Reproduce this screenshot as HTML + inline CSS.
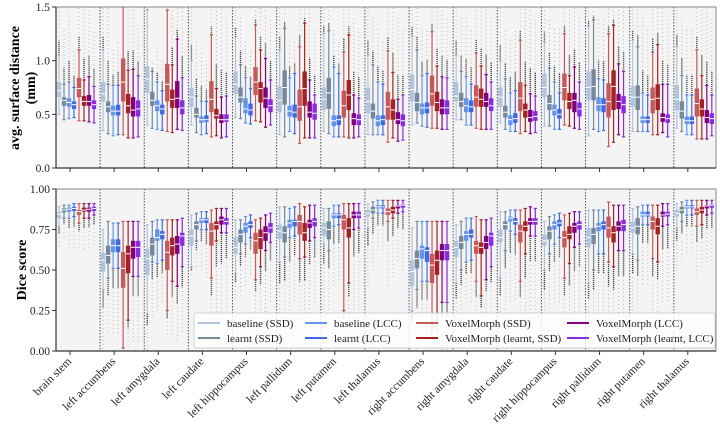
<!DOCTYPE html>
<html><head><meta charset="utf-8"><style>
html,body{margin:0;padding:0;background:#fff;}
svg{display:block;font-family:"Liberation Serif",serif;}
</style></head><body>
<svg id="fig" width="720" height="432" viewBox="0 0 720 432" xmlns="http://www.w3.org/2000/svg">
<g id="top"></g>
<g id="bot"></g>
<g id="xl"></g>
<text transform="translate(19,88) rotate(-90)" text-anchor="middle" font-size="14" font-weight="bold">avg. surface distance</text>
<text transform="translate(35,88) rotate(-90)" text-anchor="middle" font-size="14" font-weight="bold">(mm)</text>
<text transform="translate(26,270) rotate(-90)" text-anchor="middle" font-size="14" font-weight="bold">Dice score</text>
<g id="legend"></g>
</svg>
<script>
const categories=["brain stem","left accumbens","left amygdala","left caudate","left hippocampus","left pallidum","left putamen","left thalamus","right accumbens","right amygdala","right caudate","right hippocampus","right pallidum","right putamen","right thalamus"];
const methods=["baseline (SSD)","learnt (SSD)","baseline (LCC)","learnt (LCC)","VoxelMorph (SSD)","VoxelMorph (learnt, SSD)","VoxelMorph (LCC)","VoxelMorph (learnt, LCC)"];
const colors=["#b0c4de","#778899","#6495ed","#4169e1","#c65a5a","#a52222","#800080","#8a2be2"];
const asdTicks=[0,0.5,1.0,1.5];
const diceTicks=[0,0.25,0.5,0.75,1.0];
const asdQ1=[[.66,.58,.57,.55,.66,.58,.58,.55],[.62,.52,.49,.49,.62,.51,.48,.48],[.70,.58,.53,.50,.62,.56,.56,.50],[.57,.47,.42,.43,.52,.46,.42,.43],[.69,.61,.51,.49,.68,.61,.56,.52],[.52,.59,.48,.47,.44,.58,.47,.45],[.54,.55,.39,.40,.47,.54,.40,.40],[.51,.46,.39,.40,.45,.45,.41,.39],[.62,.53,.50,.51,.58,.53,.50,.50],[.62,.57,.52,.52,.57,.57,.57,.53],[.57,.47,.40,.42,.53,.47,.43,.44],[.66,.54,.49,.46,.63,.55,.52,.48],[.63,.63,.53,.52,.47,.54,.55,.51],[.57,.54,.42,.42,.51,.54,.43,.42],[.54,.46,.41,.41,.48,.48,.42,.41]];
const asdMed=[[.72,.63,.61,.59,.74,.62,.62,.59],[.69,.57,.53,.53,.80,.58,.54,.55],[.83,.63,.58,.55,.78,.64,.65,.56],[.66,.50,.45,.45,.64,.49,.45,.45],[.78,.66,.55,.54,.80,.74,.65,.58],[.63,.75,.53,.52,.57,.74,.52,.51],[.64,.70,.44,.45,.58,.68,.46,.45],[.62,.53,.44,.45,.57,.54,.45,.44],[.73,.61,.56,.56,.69,.61,.56,.56],[.67,.62,.58,.57,.66,.64,.62,.58],[.66,.52,.45,.46,.65,.54,.47,.48],[.75,.60,.54,.50,.75,.62,.63,.55],[.75,.76,.59,.59,.62,.76,.62,.59],[.66,.66,.45,.45,.64,.65,.47,.46],[.64,.53,.44,.44,.60,.55,.47,.46]];
const asdQ3=[[.80,.66,.65,.62,.84,.67,.68,.63],[.80,.62,.58,.59,1.02,.69,.66,.63],[.95,.71,.63,.59,.97,.73,.81,.63],[.75,.56,.48,.49,.81,.55,.50,.50],[.90,.75,.65,.60,.94,.80,.75,.64],[.76,.91,.58,.59,.73,.90,.62,.60],[.75,.84,.49,.49,.72,.82,.51,.50],[.75,.60,.49,.49,.71,.64,.52,.50],[.87,.70,.60,.61,.86,.71,.64,.63],[.80,.70,.65,.63,.77,.74,.70,.65],[.75,.58,.49,.51,.80,.60,.54,.53],[.88,.68,.59,.55,.88,.70,.70,.61],[.90,.92,.66,.65,.79,.91,.69,.67],[.76,.77,.48,.48,.75,.78,.51,.50],[.77,.62,.48,.48,.74,.64,.54,.51]];
const asdLo=[[.50,.45,.46,.47,.44,.44,.43,.42],[.35,.32,.30,.31,.31,.28,.28,.29],[.40,.37,.36,.35,.34,.33,.36,.35],[.40,.33,.31,.32,.29,.30,.28,.29],[.47,.46,.42,.41,.44,.43,.38,.40],[.31,.29,.34,.32,.23,.28,.28,.28],[.34,.32,.29,.29,.29,.28,.28,.29],[.31,.31,.31,.31,.24,.28,.25,.26],[.40,.42,.39,.38,.37,.37,.36,.36],[.45,.45,.40,.40,.37,.36,.36,.36],[.42,.36,.34,.34,.32,.34,.32,.33],[.39,.39,.36,.36,.40,.39,.37,.36],[.30,.36,.34,.35,.20,.24,.31,.29],[.34,.34,.34,.34,.31,.31,.33,.29],[.37,.34,.31,.31,.27,.27,.27,.30]];
const asdHi=[[1.05,.78,.80,.75,1.10,.82,.85,.76],[1.10,.78,.77,.77,1.50,.91,.92,.86],[1.47,.90,.80,.72,1.47,.96,1.20,.84],[1.00,.67,.62,.62,1.24,.74,.66,.67],[1.22,.96,.84,.74,1.33,1.10,1.02,.82],[1.10,1.30,.84,.88,1.13,1.35,.82,.68],[1.25,1.28,.94,.88,1.08,1.24,.68,.65],[1.05,.96,.80,.78,1.09,.89,.64,.68],[1.23,1.10,.86,.88,1.27,.95,.85,.84],[1.05,.90,.85,.78,1.07,.95,.87,.80],[1.00,.83,.70,.72,1.19,.77,.69,.67],[1.17,.93,.80,.70,1.25,.86,.94,.80],[1.32,1.38,.83,.82,1.25,1.33,.97,.90],[1.19,1.13,.70,.68,1.08,1.15,.78,.78],[1.13,.86,.68,.68,1.10,.86,.77,.68]];
const asdOut=[[1.5,1.3,1.45,1.1,1.5,1.5,1.5,1.3],[1.5,1.5,1.1,1.2,1.5,1.5,1.5,1.3],[1.5,1.0,1.1,1.0,1.5,1.5,1.5,1.5],[1.5,1.2,1.1,1.0,1.5,1.5,1.5,1.4],[1.5,1.4,1.2,1.1,1.5,1.5,1.5,1.4],[1.5,1.5,1.2,1.2,1.5,1.5,1.5,1.3],[1.5,1.5,1.3,1.2,1.5,1.5,1.4,1.3],[1.5,1.4,1.3,1.2,1.5,1.5,1.4,1.3],[1.5,1.5,1.3,1.3,1.5,1.5,1.5,1.4],[1.5,1.4,1.4,1.3,1.5,1.5,1.5,1.4],[1.5,1.3,1.2,1.3,1.5,1.5,1.5,1.4],[1.5,1.4,1.3,1.3,1.5,1.5,1.5,1.4],[1.5,1.5,1.4,1.4,1.5,1.5,1.5,1.5],[1.5,1.5,1.4,1.3,1.5,1.5,1.5,1.4],[1.5,1.4,1.3,1.3,1.5,1.5,1.5,1.4]];
const diceQ1=[[.82,.855,.86,.865,.84,.86,.86,.865],[.49,.54,.61,.61,.39,.48,.57,.58],[.47,.59,.68,.69,.50,.59,.60,.65],[.65,.75,.79,.79,.65,.75,.78,.78],[.60,.67,.73,.76,.60,.63,.68,.73],[.69,.67,.76,.77,.72,.68,.76,.77],[.71,.69,.82,.82,.75,.70,.82,.82],[.83,.85,.88,.88,.84,.85,.88,.885],[.40,.51,.57,.55,.42,.47,.56,.56],[.58,.63,.68,.70,.60,.60,.63,.65],[.67,.75,.80,.78,.67,.74,.78,.78],[.65,.69,.75,.77,.64,.69,.73,.75],[.64,.66,.74,.75,.70,.67,.74,.74],[.73,.72,.83,.83,.75,.72,.83,.83],[.83,.85,.88,.88,.84,.85,.88,.885]];
const diceMed=[[.845,.87,.875,.88,.86,.87,.875,.88],[.56,.59,.65,.65,.51,.60,.64,.64],[.57,.66,.70,.72,.61,.65,.66,.71],[.71,.78,.81,.81,.74,.78,.81,.80],[.64,.72,.77,.78,.68,.70,.73,.76],[.74,.73,.79,.80,.80,.73,.79,.80],[.76,.75,.84,.84,.81,.76,.84,.84],[.85,.87,.89,.89,.86,.87,.895,.90],[.49,.57,.63,.62,.53,.56,.62,.62],[.64,.67,.72,.72,.65,.64,.67,.71],[.70,.78,.82,.80,.74,.77,.80,.80],[.68,.74,.78,.79,.70,.72,.77,.78],[.70,.72,.77,.78,.76,.73,.77,.78],[.76,.77,.84,.84,.80,.77,.84,.845],[.85,.87,.89,.89,.86,.87,.895,.90]];
const diceQ3=[[.86,.88,.885,.89,.87,.885,.885,.89],[.605,.65,.69,.69,.61,.65,.68,.68],[.63,.70,.75,.74,.68,.70,.71,.73],[.75,.80,.82,.82,.79,.80,.83,.82],[.70,.75,.79,.80,.73,.75,.77,.79],[.78,.77,.81,.81,.84,.79,.81,.82],[.79,.80,.85,.85,.84,.82,.86,.86],[.87,.89,.90,.90,.88,.89,.90,.905],[.56,.62,.65,.64,.60,.62,.66,.66],[.68,.71,.74,.75,.68,.67,.71,.73],[.75,.80,.83,.82,.78,.80,.82,.82],[.72,.77,.80,.81,.74,.77,.79,.80],[.76,.76,.79,.80,.83,.77,.80,.81],[.80,.82,.86,.86,.83,.82,.86,.86],[.87,.89,.90,.90,.88,.89,.90,.905]];
const diceLo=[[.77,.82,.82,.83,.79,.82,.82,.84],[.38,.45,.51,.51,.02,.19,.46,.46],[.23,.55,.54,.56,.25,.43,.40,.52],[.52,.68,.75,.75,.45,.68,.73,.73],[.48,.60,.66,.70,.44,.52,.62,.67],[.55,.58,.70,.71,.57,.58,.68,.70],[.66,.62,.77,.78,.25,.42,.75,.76],[.76,.82,.85,.85,.80,.82,.85,.86],[.25,.38,.43,.43,.15,.17,.30,.30],[.42,.50,.55,.56,.43,.34,.44,.52],[.45,.62,.74,.72,.43,.60,.71,.71],[.50,.60,.66,.70,.45,.54,.64,.66],[.42,.50,.60,.60,.55,.52,.62,.62],[.60,.56,.78,.78,.57,.55,.77,.78],[.76,.80,.84,.84,.77,.78,.84,.85]];
const diceHi=[[.89,.90,.90,.91,.91,.91,.91,.91],[.75,.80,.79,.79,.80,.80,.80,.80],[.78,.80,.81,.81,.81,.81,.81,.82],[.84,.85,.86,.86,.87,.88,.88,.88],[.81,.81,.83,.84,.81,.82,.84,.85],[.89,.89,.88,.89,.91,.89,.90,.90],[.88,.88,.90,.90,.91,.91,.91,.91],[.91,.92,.93,.93,.93,.93,.93,.93],[.76,.80,.80,.80,.80,.80,.80,.80],[.78,.80,.82,.82,.83,.81,.81,.82],[.86,.86,.87,.87,.87,.88,.89,.88],[.80,.83,.84,.85,.84,.85,.86,.86],[.87,.87,.87,.87,.92,.90,.90,.90],[.88,.89,.90,.90,.90,.90,.91,.91],[.91,.92,.93,.93,.93,.93,.93,.93]];
const diceOut=[[.63,.70,.63,.62,.62,.62,.64,.65],[0,.10,.10,.10,0,.02,.05,.05],[0,.20,.25,.30,.10,.10,.05,.10],[.45,.50,.50,.45,.10,.15,.10,.20],[.30,.35,.40,.45,.20,.15,.20,.30],[.10,.10,.20,.30,.10,.10,.20,.30],[.25,.25,.40,.40,.10,.15,.20,.25],[.40,.50,.60,.60,.40,.45,.55,.50],[0,0,.05,.05,0,0,0,0],[.10,.20,.30,.30,.10,.10,.20,.20],[.10,.25,.30,.30,.10,.10,.20,.20],[.10,.25,.30,.30,.10,.10,.15,.20],[.10,.10,.20,.20,.05,.05,.10,.10],[.20,.25,.40,.40,.20,.20,.30,.30],[.50,.55,.60,.60,.45,.50,.55,.55]];

const NS='http://www.w3.org/2000/svg';
const X0=56,X1=716,GW=44.13;
function mk(tag,attrs,parent){const e=document.createElementNS(NS,tag);for(const k in attrs)e.setAttribute(k,attrs[k]);parent.appendChild(e);return e;}
function gx(g){return X0+g*GW;}
function bx(g,m){return gx(g)+3+m*5;}

function panel(root,y0,y1,vmax,ticks,fmt,Q1,MED,Q3,LO,HI,OUT,up){
  const ys=v=>y1-(v/vmax)*(y1-y0);
  const bg=mk('rect',{x:X0,y:y0,width:X1-X0,height:y1-y0,fill:'#f4f4f4'},root);
  
  
  for(let g=1;g<categories.length;g++){
    const l=mk('line',{x1:gx(g),x2:gx(g),y1:y0,y2:y1,stroke:'#555','stroke-width':1,'stroke-dasharray':'1.5,1.5'},root);
    
    
  }
  for(let g=0;g<categories.length;g++){
    for(let m=0;m<methods.length;m++){
      const cx=bx(g,m),c=colors[m];
      const grp=mk('g',{},root);
      
      
      const oEnd=OUT[g][m], wEnd=up?HI[g][m]:LO[g][m];
      const dense=wEnd+(oEnd-wEnd)*0.3;
      mk('line',{x1:cx,x2:cx,y1:ys(dense),y2:ys(oEnd),stroke:'#444','stroke-width':1,'stroke-dasharray':'1,3',opacity:0.35},grp);
      mk('line',{x1:cx,x2:cx,y1:ys(wEnd),y2:ys(dense),stroke:'#111','stroke-width':1.4,'stroke-dasharray':'1.2,0.8',opacity:0.75},grp);
      mk('line',{x1:cx,x2:cx,y1:ys(LO[g][m]),y2:ys(HI[g][m]),stroke:c,'stroke-width':1.2},grp);
      mk('line',{x1:cx-1.6,x2:cx+1.6,y1:ys(LO[g][m]),y2:ys(LO[g][m]),stroke:c,'stroke-width':1.2},grp);
      mk('line',{x1:cx-1.6,x2:cx+1.6,y1:ys(HI[g][m]),y2:ys(HI[g][m]),stroke:c,'stroke-width':1.2},grp);
      mk('rect',{x:cx-2.2,y:ys(Q3[g][m]),width:4.4,height:Math.max(1,ys(Q1[g][m])-ys(Q3[g][m])),fill:c},grp);
      mk('line',{x1:cx-2.2,x2:cx+2.2,y1:ys(MED[g][m]),y2:ys(MED[g][m]),stroke:'#fff','stroke-width':1},grp);
    }
  }
  const fr=mk('rect',{x:X0,y:y0,width:X1-X0,height:y1-y0,fill:'none',stroke:'#888','stroke-width':1},root);
  
  
  mk('line',{x1:X0,x2:X0,y1:y0,y2:y1,stroke:'#333','stroke-width':1.2},root);
  mk('line',{x1:X0,x2:X1,y1:y1,y2:y1,stroke:'#333','stroke-width':1.2},root);
  ticks.forEach(t=>{
    mk('line',{x1:X0-4,x2:X0,y1:ys(t),y2:ys(t),stroke:'#333'},root);
    const tx=mk('text',{x:X0-6,y:ys(t)+4,'text-anchor':'end','font-size':11.5,fill:'#222'},root);
    
    
    tx.textContent=fmt(t);
  });
  for(let g=0;g<categories.length;g++){
    mk('line',{x1:gx(g)+14,x2:gx(g)+14,y1:y1,y2:y1+4,stroke:'#333'},root);
  }
}
panel(document.getElementById('top'),7,168,1.5,asdTicks,t=>t.toFixed(1),asdQ1,asdMed,asdQ3,asdLo,asdHi,asdOut,true);
panel(document.getElementById('bot'),189,351,1.0,diceTicks,t=>t.toFixed(2),diceQ1,diceMed,diceQ3,diceLo,diceHi,diceOut,false);

const xl=document.getElementById('xl');
categories.forEach((c,g)=>{
  const x=gx(g)+16, y=362;
  const t=mk('text',{x:x,y:y,transform:`rotate(-45 ${x} ${y})`,'text-anchor':'end','font-size':11.5,fill:'#222'},xl);
  
  
  t.textContent=c;
});

const lg=document.getElementById('legend');
const lb=mk('rect',{x:194,y:313,width:521,height:35,fill:'#fff',opacity:0.85,stroke:'#ccc',rx:2},lg);


const colX=[198,305,416,567];
methods.forEach((m,i)=>{
  const col=Math.floor(i/2),row=i%2;
  const x=colX[col],y=323+row*15;
  const e=mk('g',{},lg);
  
  
  mk('line',{x1:x,x2:x+22,y1:y,y2:y,stroke:colors[i],'stroke-width':2},e);
  const t=mk('text',{x:x+29,y:y+4,'font-size':11,fill:'#222'},e);
  t.textContent=m;
});
</script>
</body></html>
